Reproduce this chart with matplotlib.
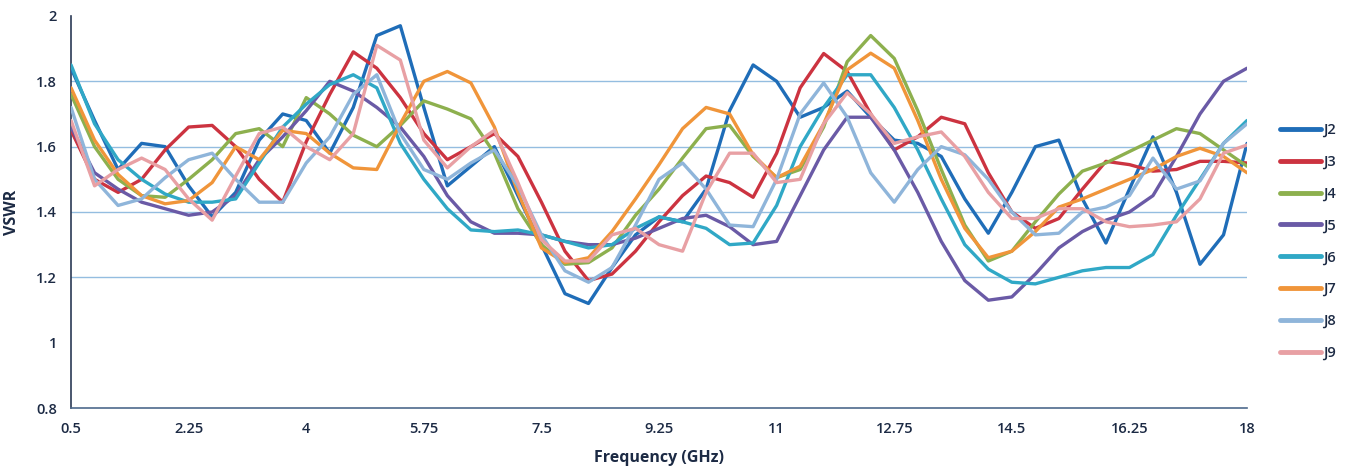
import matplotlib
matplotlib.use("Agg")
import matplotlib.pyplot as plt

# Frequency sampling (GHz)
freq = [0.5, 0.85, 1.2, 1.55, 1.9, 2.25, 2.6, 2.95, 3.3, 3.65,
        4.0, 4.35, 4.7, 5.05, 5.4, 5.75, 6.1, 6.45, 6.8, 7.15,
        7.5, 7.85, 8.2, 8.55, 8.9, 9.25, 9.6, 9.95, 10.3, 10.65,
        11.0, 11.35, 11.7, 12.05, 12.4, 12.75, 13.1, 13.45, 13.8, 14.15,
        14.5, 14.85, 15.2, 15.55, 15.9, 16.25, 16.6, 16.95, 17.3, 17.65, 18.0]

j2 = [1.84, 1.68, 1.53, 1.61, 1.60, 1.48, 1.385, 1.46, 1.62, 1.70,
      1.68, 1.58, 1.72, 1.94, 1.97, 1.72, 1.48, 1.54, 1.60, 1.45,
      1.30, 1.15, 1.12, 1.23, 1.33, 1.385, 1.37, 1.47, 1.71, 1.85,
      1.80, 1.69, 1.72, 1.77, 1.69, 1.62, 1.61, 1.57, 1.44, 1.335,
      1.46, 1.60, 1.62, 1.44, 1.305, 1.47, 1.63, 1.46, 1.24, 1.33, 1.61]
j3 = [1.65, 1.50, 1.46, 1.50, 1.59, 1.66, 1.665, 1.60, 1.50, 1.43,
      1.615, 1.76, 1.89, 1.84, 1.75, 1.64, 1.56, 1.60, 1.64, 1.57,
      1.43, 1.28, 1.19, 1.21, 1.28, 1.37, 1.45, 1.51, 1.49, 1.445,
      1.58, 1.78, 1.885, 1.83, 1.70, 1.59, 1.63, 1.69, 1.67, 1.52,
      1.40, 1.35, 1.38, 1.47, 1.555, 1.545, 1.525, 1.53, 1.555, 1.555, 1.55]
j4 = [1.76, 1.60, 1.50, 1.45, 1.445, 1.50, 1.56, 1.64, 1.655, 1.60,
      1.75, 1.70, 1.635, 1.60, 1.665, 1.74, 1.715, 1.685, 1.58, 1.41,
      1.30, 1.24, 1.245, 1.29, 1.39, 1.47, 1.565, 1.655, 1.665, 1.57,
      1.505, 1.53, 1.66, 1.86, 1.94, 1.87, 1.71, 1.53, 1.36, 1.25,
      1.28, 1.37, 1.455, 1.525, 1.55, 1.585, 1.62, 1.655, 1.64, 1.59, 1.54]
j5 = [1.66, 1.52, 1.47, 1.43, 1.41, 1.39, 1.40, 1.45, 1.56, 1.63,
      1.71, 1.80, 1.77, 1.72, 1.66, 1.57, 1.45, 1.37, 1.335, 1.335,
      1.33, 1.31, 1.30, 1.30, 1.32, 1.35, 1.38, 1.39, 1.355, 1.30,
      1.31, 1.45, 1.59, 1.69, 1.69, 1.59, 1.46, 1.31, 1.19, 1.13,
      1.14, 1.21, 1.29, 1.34, 1.375, 1.40, 1.45, 1.57, 1.70, 1.80, 1.84]
j6 = [1.85, 1.67, 1.56, 1.50, 1.455, 1.43, 1.43, 1.44, 1.55, 1.66,
      1.73, 1.79, 1.82, 1.78, 1.61, 1.50, 1.41, 1.345, 1.34, 1.345,
      1.33, 1.31, 1.29, 1.30, 1.35, 1.385, 1.37, 1.35, 1.30, 1.305,
      1.42, 1.60, 1.72, 1.82, 1.82, 1.72, 1.59, 1.44, 1.30, 1.225,
      1.185, 1.18, 1.20, 1.22, 1.23, 1.23, 1.27, 1.39, 1.50, 1.61, 1.68]
j7 = [1.78, 1.62, 1.515, 1.45, 1.425, 1.435, 1.49, 1.60, 1.56, 1.65,
      1.64, 1.58, 1.535, 1.53, 1.67, 1.80, 1.83, 1.795, 1.66, 1.46,
      1.29, 1.245, 1.26, 1.34, 1.44, 1.545, 1.655, 1.72, 1.70, 1.575,
      1.505, 1.54, 1.67, 1.835, 1.886, 1.84, 1.68, 1.50, 1.35, 1.26,
      1.28, 1.34, 1.415, 1.44, 1.47, 1.50, 1.53, 1.57, 1.595, 1.57, 1.52]
j8 = [1.72, 1.50, 1.42, 1.44, 1.505, 1.56, 1.58, 1.50, 1.43, 1.43,
      1.55, 1.63, 1.76, 1.82, 1.64, 1.53, 1.50, 1.55, 1.59, 1.48,
      1.33, 1.22, 1.185, 1.23, 1.36, 1.50, 1.55, 1.47, 1.36, 1.355,
      1.50, 1.70, 1.795, 1.69, 1.52, 1.43, 1.53, 1.60, 1.575, 1.50,
      1.40, 1.33, 1.335, 1.40, 1.415, 1.45, 1.565, 1.47, 1.495, 1.61, 1.67]
j9 = [1.68, 1.48, 1.53, 1.565, 1.53, 1.44, 1.375, 1.51, 1.64, 1.66,
      1.60, 1.56, 1.64, 1.91, 1.865, 1.62, 1.535, 1.60, 1.65, 1.49,
      1.315, 1.25, 1.25, 1.33, 1.35, 1.30, 1.28, 1.46, 1.58, 1.58,
      1.49, 1.50, 1.67, 1.765, 1.70, 1.61, 1.63, 1.645, 1.57, 1.46,
      1.38, 1.38, 1.41, 1.41, 1.37, 1.355, 1.36, 1.37, 1.44, 1.58, 1.605]

labels = ["J2", "J3", "J4", "J5", "J6", "J7", "J8", "J9"]
colors = ["#1f6db8", "#cc3340", "#8db04e", "#6a5aa6",
          "#30a8c6", "#f0953a", "#8fb5da", "#e8a0a4"]

xticks = [0.5, 2.25, 4, 5.75, 7.5, 9.25, 11, 12.75, 14.5, 16.25, 18]
xticklabels = ["0.5", "2.25", "4", "5.75", "7.5", "9.25", "11", "12.75", "14.5", "16.25", "18"]
yticks = [0.8, 1.0, 1.2, 1.4, 1.6, 1.8, 2.0]
yticklabels = ["0.8", "1", "1.2", "1.4", "1.6", "1.8", "2"]

plt.rcParams['font.family'] = ['Open Sans', 'DejaVu Sans']
navy = "#1c2a44"

fig = plt.figure(figsize=(13.48, 4.69), dpi=100)
ax = fig.add_axes([0.0527, 0.130, 0.8724, 0.836])

# horizontal grid (only the inner levels are visible in the original)
for lvl in [1.2, 1.4, 1.6, 1.8]:
    ax.axhline(lvl, color="#94bde0", lw=1.0, zorder=1)

for series, lab, col in zip([j2, j3, j4, j5, j6, j7, j8, j9], labels, colors):
    ax.plot(freq, series, color=col, lw=2.4, label=lab, zorder=3,
            solid_capstyle='round', solid_joinstyle='round')

ax.set_xlim(0.5, 18)
ax.set_ylim(0.8, 2.0)
ax.set_xticks(xticks)
ax.set_xticklabels(xticklabels)
ax.set_yticks(yticks)
ax.set_yticklabels(yticklabels)
ax.tick_params(length=0, labelsize=10.5, colors=navy, pad=10)
for t in ax.get_xticklabels() + ax.get_yticklabels():
    t.set_fontweight('semibold')

for s in ["top", "right"]:
    ax.spines[s].set_visible(False)
ax.spines["left"].set_color("#2b3a55")
ax.spines["left"].set_linewidth(1.2)
ax.spines["bottom"].set_color("#4e6a8c")
ax.spines["bottom"].set_linewidth(1.2)

ax.set_xlabel("Frequency (GHz)", fontsize=11.5, fontweight='bold', color=navy, labelpad=10)
ax.set_ylabel("VSWR", fontsize=11.5, fontweight='bold', color=navy, labelpad=12)

leg = ax.legend(loc="upper left", bbox_to_anchor=(1.028, 0.727), frameon=False,
                fontsize=10.5, handlelength=2.8, handletextpad=0.15,
                labelspacing=1.2, borderaxespad=0, borderpad=0)
for line in leg.get_lines():
    line.set_linewidth(3.5)
for t in leg.get_texts():
    t.set_color(navy)
    t.set_fontweight('semibold')

fig.savefig("out.png", dpi=100)
